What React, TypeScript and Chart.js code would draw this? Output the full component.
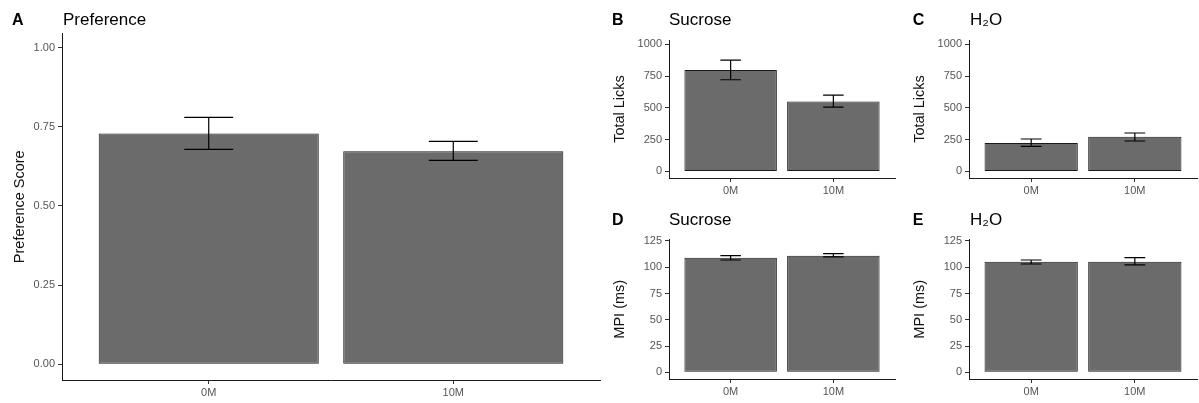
import React, { useEffect, useRef } from 'react';
import { Chart, registerables } from 'chart.js';

Chart.register(...registerables);

// ---------- data ----------
const categories = ['0M', '10M'];
const categoryPositions = [1, 2];

const prefMean = [0.729, 0.673];
const prefLow = [0.679, 0.644];
const prefHigh = [0.78, 0.704];
const prefTicks = [0, 0.25, 0.5, 0.75, 1];

const sucroseLicksMean = [797, 550];
const sucroseLicksLow = [721, 506];
const sucroseLicksHigh = [876, 600];

const waterLicksMean = [223, 273];
const waterLicksLow = [197, 239];
const waterLicksHigh = [255, 302];
const licksTicks = [0, 250, 500, 750, 1000];

const sucroseMpiMean = [109.1, 111.0];
const sucroseMpiLow = [106.9, 109.8];
const sucroseMpiHigh = [111.0, 112.9];

const waterMpiMean = [105.3, 105.3];
const waterMpiLow = [103.1, 102.2];
const waterMpiHigh = [106.9, 109.1];
const mpiTicks = [0, 25, 50, 75, 100, 125];

// ---------- styling ----------
const FONT = '"Liberation Sans", Arial, sans-serif';
const TICK_COLOR = '#555555';
const BAR_FILL = '#6b6b6b';
const LINE_COLOR = '#1a1a1a';

const errorBarPlugin = {
  id: 'errorBars',
  afterDatasetsDraw(chart: any) {
    const o = chart.options.plugins.errorBars;
    if (!o) return;
    const xs = chart.scales.x;
    const ys = chart.scales.y;
    const ctx = chart.ctx;
    ctx.save();
    ctx.strokeStyle = '#000';
    ctx.lineWidth = 1.2;
    o.positions.forEach((p: number, i: number) => {
      const x = xs.getPixelForValue(p);
      const xl = xs.getPixelForValue(p - o.capHalf);
      const xr = xs.getPixelForValue(p + o.capHalf);
      const yl = ys.getPixelForValue(o.low[i]);
      const yh = ys.getPixelForValue(o.high[i]);
      ctx.beginPath();
      ctx.moveTo(x, yl);
      ctx.lineTo(x, yh);
      ctx.moveTo(xl, yl);
      ctx.lineTo(xr, yl);
      ctx.moveTo(xl, yh);
      ctx.lineTo(xr, yh);
      ctx.stroke();
    });
    ctx.restore();
  },
};

const panelTitlePlugin = {
  id: 'panelTitle',
  afterDraw(chart: any) {
    const o = chart.options.plugins.panelTitle;
    if (!o) return;
    const ctx = chart.ctx;
    ctx.save();
    ctx.fillStyle = '#000';
    ctx.textBaseline = 'alphabetic';
    ctx.textAlign = 'left';
    ctx.font = `bold 16px ${FONT}`;
    ctx.fillText(o.letter, o.letterX, o.baseline);
    ctx.font = `17px ${FONT}`;
    ctx.fillText(o.title, o.titleX, o.baseline);
    ctx.restore();
  },
};

type PanelProps = {
  left: number;
  top: number;
  width: number;
  height: number;
  letter: string;
  title: string;
  letterX: number;
  titleX: number;
  yTitle: string;
  mean: number[];
  low: number[];
  high: number[];
  yTicks: number[];
  yMin: number;
  yMax: number;
  decimals: number;
  padTop: number;
  padRight: number;
  yWidth: number;
  xHeight: number;
};

function Panel(p: PanelProps) {
  const ref = useRef<HTMLCanvasElement | null>(null);
  useEffect(() => {
    if (!ref.current) return;
    const chart = new Chart(ref.current, {
      type: 'bar',
      data: {
        datasets: [
          {
            data: categoryPositions.map((x, i) => ({ x, y: p.mean[i] })),
            backgroundColor: BAR_FILL,
            borderColor: LINE_COLOR,
            borderWidth: 1,
            borderSkipped: false,
            barPercentage: 0.9,
            categoryPercentage: 1,
          },
        ],
      },
      options: {
        responsive: false,
        animation: false,
        devicePixelRatio: 1,
        layout: { padding: { top: p.padTop, right: p.padRight, left: 0, bottom: 0 } },
        plugins: {
          legend: { display: false },
          tooltip: { enabled: false },
          title: { display: false },
          errorBars: { positions: categoryPositions, low: p.low, high: p.high, capHalf: 0.1 },
          panelTitle: { letter: p.letter, title: p.title, letterX: p.letterX, titleX: p.titleX, baseline: 25 },
        } as any,
        scales: {
          x: {
            type: 'linear',
            min: 0.4,
            max: 2.6,
            offset: false,
            afterBuildTicks: (s: any) => {
              s.ticks = categoryPositions.map((v) => ({ value: v }));
            },
            afterFit: (s: any) => {
              s.height = p.xHeight;
            },
            ticks: {
              callback: (v: any) => {
                const i = categoryPositions.indexOf(Number(v));
                return i >= 0 ? categories[i] : '';
              },
              color: TICK_COLOR,
              font: { size: 11, family: FONT },
              padding: 2.5,
              maxRotation: 0,
              autoSkip: false,
            },
            grid: {
              display: true,
              offset: false,
              drawOnChartArea: false,
              drawTicks: true,
              tickLength: 4,
              tickColor: '#333',
              tickWidth: 1,
            },
            border: { display: true, color: LINE_COLOR, width: 1 },
          },
          y: {
            type: 'linear',
            min: p.yMin,
            max: p.yMax,
            afterBuildTicks: (s: any) => {
              s.ticks = p.yTicks.map((v) => ({ value: v }));
            },
            afterFit: (s: any) => {
              s.width = p.yWidth;
            },
            ticks: {
              callback: (v: any) => Number(v).toFixed(p.decimals),
              color: TICK_COLOR,
              font: { size: 11, family: FONT },
              padding: 3,
              autoSkip: false,
            },
            grid: {
              display: true,
              drawOnChartArea: false,
              drawTicks: true,
              tickLength: 4,
              tickColor: '#333',
              tickWidth: 1,
            },
            border: { display: true, color: LINE_COLOR, width: 1 },
            title: {
              display: true,
              text: p.yTitle,
              color: '#111',
              font: { size: 14.5, family: FONT },
              padding: { top: 10.8, bottom: 0 },
            },
          },
        },
      } as any,
      plugins: [errorBarPlugin, panelTitlePlugin],
    });
    return () => chart.destroy();
  }, []);
  return (
    <canvas
      ref={ref}
      width={p.width}
      height={p.height}
      style={{ position: 'absolute', left: p.left, top: p.top, width: p.width, height: p.height, display: 'block' }}
    />
  );
}

export default function App() {
  return (
    <div style={{ position: 'absolute', left: 0, top: 0, width: 1199, height: 403, background: '#fff', overflow: 'hidden' }}>
      <Panel
        left={0} top={0} width={605} height={403}
        letter="A" title="Preference" letterX={12} titleX={63}
        yTitle="Preference Score"
        mean={prefMean} low={prefLow} high={prefHigh}
        yTicks={prefTicks} yMin={-0.05} yMax={1.045} decimals={2}
        padTop={33.5} padRight={5} yWidth={62} xHeight={23}
      />
      <Panel
        left={600} top={0} width={300} height={200}
        letter="B" title="Sucrose" letterX={12} titleX={69}
        yTitle="Total Licks"
        mean={sucroseLicksMean} low={sucroseLicksLow} high={sucroseLicksHigh}
        yTicks={licksTicks} yMin={-52} yMax={1034} decimals={0}
        padTop={40} padRight={5} yWidth={69} xHeight={22}
      />
      <Panel
        left={900} top={0} width={299} height={200}
        letter="C" title="H₂O" letterX={12.7} titleX={70}
        yTitle="Total Licks"
        mean={waterLicksMean} low={waterLicksLow} high={waterLicksHigh}
        yTicks={licksTicks} yMin={-52} yMax={1034} decimals={0}
        padTop={40} padRight={2} yWidth={69} xHeight={22}
      />
      <Panel
        left={600} top={200} width={300} height={203}
        letter="D" title="Sucrose" letterX={12} titleX={69}
        yTitle="MPI (ms)"
        mean={sucroseMpiMean} low={sucroseMpiLow} high={sucroseMpiHigh}
        yTicks={mpiTicks} yMin={-6.4} yMax={126.4} decimals={0}
        padTop={39.5} padRight={5} yWidth={69} xHeight={24}
      />
      <Panel
        left={900} top={200} width={299} height={203}
        letter="E" title="H₂O" letterX={12.7} titleX={70}
        yTitle="MPI (ms)"
        mean={waterMpiMean} low={waterMpiLow} high={waterMpiHigh}
        yTicks={mpiTicks} yMin={-6.4} yMax={126.4} decimals={0}
        padTop={39.5} padRight={2} yWidth={69} xHeight={24}
      />
    </div>
  );
}
